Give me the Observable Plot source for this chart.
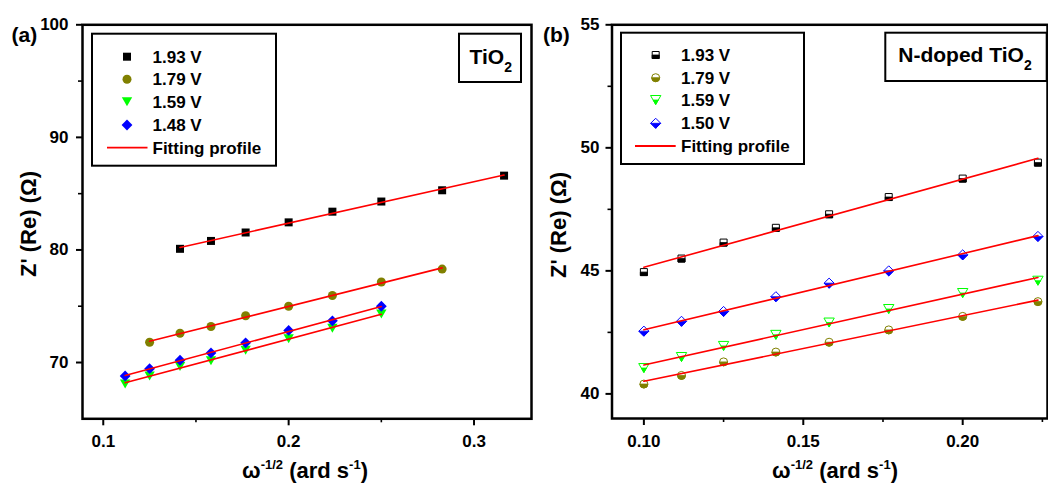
<!DOCTYPE html>
<html>
<head>
<meta charset="utf-8">
<script src="https://cdn.jsdelivr.net/npm/d3@7"></script>
<script src="https://cdn.jsdelivr.net/npm/@observablehq/plot@0.6"></script>
<style>
  html, body { margin: 0; padding: 0; background: #fff; }
  #wrap { position: relative; width: 1048px; height: 484px; overflow: hidden; background: #fff; }
  .panel { position: absolute; top: 0; }
</style>
</head>
<body>
<div id="wrap"></div>
<script>
// ---------------- data: panel (a) TiO2 ----------------
const seriesA = ["1.93 V", "1.79 V", "1.59 V", "1.48 V"];
const xA_193 = [0.1414, 0.1581, 0.1768, 0.2000, 0.2236, 0.2500, 0.2828, 0.3162];
const yA_193 = [80.1, 80.8, 81.55, 82.45, 83.4, 84.3, 85.3, 86.6];
const xA_179 = [0.1250, 0.1414, 0.1581, 0.1768, 0.2000, 0.2236, 0.2500, 0.2828];
const yA_179 = [71.8, 72.6, 73.2, 74.15, 75.0, 75.95, 77.15, 78.3];
const xA_159 = [0.1118, 0.1250, 0.1414, 0.1581, 0.1768, 0.2000, 0.2236, 0.2500];
const yA_159 = [68.1, 68.8, 69.65, 70.15, 71.1, 72.1, 73.05, 74.3];
const xA_148 = [0.1118, 0.1250, 0.1414, 0.1581, 0.1768, 0.2000, 0.2236, 0.2500];
const yA_148 = [68.8, 69.45, 70.2, 70.85, 71.75, 72.85, 73.7, 75.0];
const xTicksA = [0.1, 0.2, 0.3];
const xMinorA = [0.15, 0.25];
const yTicksA = [70, 80, 90, 100];
const yMinorA = [75, 85, 95];

// ---------------- data: panel (b) N-doped TiO2 ----------------
const seriesB = ["1.93 V", "1.79 V", "1.59 V", "1.50 V"];
const xB = [0.1000, 0.1118, 0.1250, 0.1414, 0.1581, 0.1768, 0.2000, 0.2236];
const yB_193 = [44.95, 45.5, 46.15, 46.75, 47.3, 48.0, 48.75, 49.4];
const yB_179 = [40.4, 40.75, 41.3, 41.7, 42.1, 42.6, 43.15, 43.75];
const yB_159 = [41.05, 41.5, 41.95, 42.4, 42.9, 43.45, 44.1, 44.6];
const yB_150 = [42.55, 42.95, 43.35, 43.95, 44.5, 45.0, 45.65, 46.4];
const xTicksB = [0.10, 0.15, 0.20];
const xMinorB = [0.125, 0.175, 0.225];
const yTicksB = [40, 45, 50, 55];
const yMinorB = [42.5, 47.5, 52.5];

const fitLabel = "Fitting profile";

// ---------------- styles ----------------
const FONT = "'Liberation Sans', Arial, Helvetica, sans-serif";
const colors = ["#000000", "#808000", "#00ff00", "#0000ff"];
const kinds = ["square", "circle", "tri", "diamond"];
const FIT = "#ff0000";

function sym(kind, half) {
  return {
    draw(ctx, size) {
      const r = Math.sqrt(size / Math.PI);
      if (kind === "square") {
        if (half) { ctx.moveTo(-r, 0); ctx.lineTo(r, 0); }
        else { ctx.moveTo(-r, -r); ctx.lineTo(r, -r); }
        ctx.lineTo(r, r); ctx.lineTo(-r, r); ctx.closePath();
      } else if (kind === "circle") {
        ctx.moveTo(r, 0);
        ctx.arc(0, 0, r, 0, half ? Math.PI : 2 * Math.PI);
        ctx.closePath();
      } else if (kind === "tri") {
        const w = 1.15 * r;
        if (half) { ctx.moveTo(-w / 2, 0); ctx.lineTo(w / 2, 0); }
        else { ctx.moveTo(-w, -r); ctx.lineTo(w, -r); }
        ctx.lineTo(0, r); ctx.closePath();
      } else {
        const d = 1.2 * r;
        if (half) { ctx.moveTo(-d, 0); ctx.lineTo(d, 0); ctx.lineTo(0, d); }
        else { ctx.moveTo(0, -d); ctx.lineTo(d, 0); ctx.lineTo(0, d); ctx.lineTo(-d, 0); }
        ctx.closePath();
      }
    }
  };
}

const rA = [4, 4.5, 4.5, 4.5];
const rB = [3.5, 4, 4.5, 4.2];

const tableA = [
  [xA_193, yA_193], [xA_179, yA_179], [xA_159, yA_159], [xA_148, yA_148]
].flatMap(([xs, ys], i) => xs.map((x, j) => ({ s: seriesA[i], x, y: ys[j] })));
const tableB = [yB_193, yB_179, yB_159, yB_150]
  .flatMap((ys, i) => xB.map((x, j) => ({ s: seriesB[i], x, y: ys[j] })));

function axes(xt, xm, yt, ym, xfmt, yPad) {
  return [
    Plot.axisX({ ticks: xt, tickSize: 7, tickPadding: 9, strokeWidth: 2, label: null, tickFormat: xfmt }),
    Plot.axisX({ ticks: xm, tickSize: 4, tickPadding: 0, strokeWidth: 1.6, label: null, tickFormat: () => "" }),
    Plot.axisY({ ticks: yt, tickSize: 6, tickPadding: yPad, strokeWidth: 2, label: null, tickFormat: d => String(d) }),
    Plot.axisY({ ticks: ym, tickSize: 4, tickPadding: 0, strokeWidth: 1.6, label: null, tickFormat: () => "" })
  ];
}

const baseStyle = { background: "transparent", fontFamily: FONT, fontSize: "17px", fontWeight: "bold", color: "#000", overflow: "visible" };

// ---------------- panel (a) ----------------
const offA = 0;
const plotA = Plot.plot({
  width: 536, height: 484,
  marginLeft: 82, marginRight: 5, marginTop: 24.3, marginBottom: 65.7,
  x: { domain: [0.0888, 0.331] },
  y: { domain: [65, 100] },
  style: baseStyle,
  marks: [
    ...axes(xTicksA, xMinorA, yTicksA, yMinorA, d => String(d), 8),
    ...seriesA.map((s, i) => Plot.dot(tableA.filter(d => d.s === s), {
      x: "x", y: "y", r: rA[i], symbol: sym(kinds[i], false), fill: colors[i], stroke: "none"
    })),
    Plot.linearRegressionY(tableA, { x: "x", y: "y", z: "s", stroke: FIT, strokeWidth: 1.6, ci: 0 }),
    Plot.frame({ strokeWidth: 2.5 })
  ]
});

// ---------------- panel (b) ----------------
const offB = 536;
const plotB = Plot.plot({
  width: 512, height: 484,
  marginLeft: 75.5, marginRight: 1, marginTop: 24.3, marginBottom: 66,
  x: { domain: [0.09, 0.2266] },
  y: { domain: [39, 55] },
  style: baseStyle,
  marks: [
    ...axes(xTicksB, xMinorB, yTicksB, yMinorB, d3.format(".2f"), 6.5),
    ...seriesB.flatMap((s, i) => [
      Plot.dot(tableB.filter(d => d.s === s), {
        x: "x", y: "y", r: rB[i], symbol: sym(kinds[i], false), fill: "#fff", stroke: colors[i], strokeWidth: 1
      }),
      Plot.dot(tableB.filter(d => d.s === s), {
        x: "x", y: "y", r: rB[i], symbol: sym(kinds[i], true), fill: colors[i], stroke: colors[i], strokeWidth: 0.8
      })
    ]),
    Plot.linearRegressionY(tableB, { x: "x", y: "y", z: "s", stroke: FIT, strokeWidth: 1.6, ci: 0 }),
    Plot.frame({ strokeWidth: 2.5 })
  ]
});

// ---------------- overlays: legends, labels ----------------
function symPath(kind, half, r) {
  return d3.symbol(sym(kind, half), Math.PI * r * r)();
}

function decorate(svg, off, cfg) {
  const g = d3.select(svg).append("g")
    .attr("font-family", FONT).attr("font-weight", "bold").attr("fill", "#000")
    .attr("text-anchor", "start");
  // panel tag
  g.append("text").attr("x", cfg.tag[0] - off).attr("y", cfg.tag[1])
    .attr("font-size", 21).text(cfg.tagText);
  // y label
  g.append("text")
    .attr("transform", `translate(${cfg.yl[0] - off},${cfg.yl[1]}) rotate(-90)`)
    .attr("text-anchor", "middle").attr("font-size", 22)
    .text("Z' (Re) (\u03A9)");
  // x label with superscripts
  const xl = g.append("text").attr("x", cfg.xl[0] - off).attr("y", cfg.xl[1])
    .attr("text-anchor", "middle").attr("font-size", 22);
  xl.append("tspan").text("\u03C9");
  xl.append("tspan").attr("font-size", 13).attr("dy", -9).text("-1/2");
  xl.append("tspan").attr("dy", 9).text(" (ard s");
  xl.append("tspan").attr("font-size", 13).attr("dy", -9).text("-1");
  xl.append("tspan").attr("dy", 9).text(")");
  // legend box
  const L = cfg.legend;
  g.append("rect").attr("x", L.x0 - off).attr("y", L.y0)
    .attr("width", L.x1 - L.x0).attr("height", L.y1 - L.y0)
    .attr("fill", "#fff").attr("stroke", "#000").attr("stroke-width", 2);
  cfg.series.forEach((s, i) => {
    const cy = L.rows[i];
    const t = `translate(${L.sx - off},${cy})`;
    if (cfg.half) {
      g.append("path").attr("transform", t).attr("d", symPath(kinds[i], false, cfg.r[i]))
        .attr("fill", "#fff").attr("stroke", colors[i]).attr("stroke-width", 1);
      g.append("path").attr("transform", t).attr("d", symPath(kinds[i], true, cfg.r[i]))
        .attr("fill", colors[i]).attr("stroke", colors[i]).attr("stroke-width", 0.8);
    } else {
      g.append("path").attr("transform", t).attr("d", symPath(kinds[i], false, cfg.r[i]))
        .attr("fill", colors[i]);
    }
    g.append("text").attr("x", L.tx - off).attr("y", cy).attr("dy", "0.36em")
      .attr("font-size", 17).text(s);
  });
  const fy = L.rows[4];
  g.append("line").attr("x1", L.lx0 - off).attr("x2", L.lx1 - off)
    .attr("y1", fy).attr("y2", fy).attr("stroke", FIT).attr("stroke-width", 1.8);
  g.append("text").attr("x", L.tx - off).attr("y", fy).attr("dy", "0.36em")
    .attr("font-size", 17).text(fitLabel);
  // material box
  const M = cfg.mat;
  g.append("rect").attr("x", M.x0 - off).attr("y", M.y0)
    .attr("width", M.x1 - M.x0).attr("height", M.y1 - M.y0)
    .attr("fill", "#fff").attr("stroke", "#000").attr("stroke-width", 2);
  const mt = g.append("text").attr("x", M.tx - off).attr("y", M.ty).attr("font-size", 21);
  mt.append("tspan").text(M.text);
  mt.append("tspan").attr("font-size", 14).attr("dy", 8).text("2");
}

decorate(plotA, offA, {
  tagText: "(a)", tag: [11.5, 42], yl: [36, 224], xl: [305, 478],
  series: seriesA, half: false, r: rA,
  legend: { x0: 92, x1: 276, y0: 33.7, y1: 165.7, rows: [56.7, 79.3, 101.7, 125, 147.7], sx: 127, tx: 152.5, lx0: 107, lx1: 147.5 },
  mat: { x0: 459, x1: 521, y0: 33.7, y1: 82, tx: 469.5, ty: 63.5, text: "TiO" }
});
decorate(plotB, offB, {
  tagText: "(b)", tag: [543, 42], yl: [566, 225], xl: [835, 478],
  series: seriesB, half: true, r: rB,
  legend: { x0: 621, x1: 804, y0: 32.7, y1: 164, rows: [55, 77.7, 100, 123.3, 146], sx: 655.7, tx: 681, lx0: 635, lx1: 675.7 },
  mat: { x0: 885.3, x1: 1046.7, y0: 32.7, y1: 81, tx: 898.3, ty: 61.7, text: "N-doped TiO" }
});

const wrap = document.getElementById("wrap");
plotA.classList.add("panel"); plotA.style.left = offA + "px";
plotB.classList.add("panel"); plotB.style.left = offB + "px";
wrap.appendChild(plotA);
wrap.appendChild(plotB);
</script>
</body>
</html>
